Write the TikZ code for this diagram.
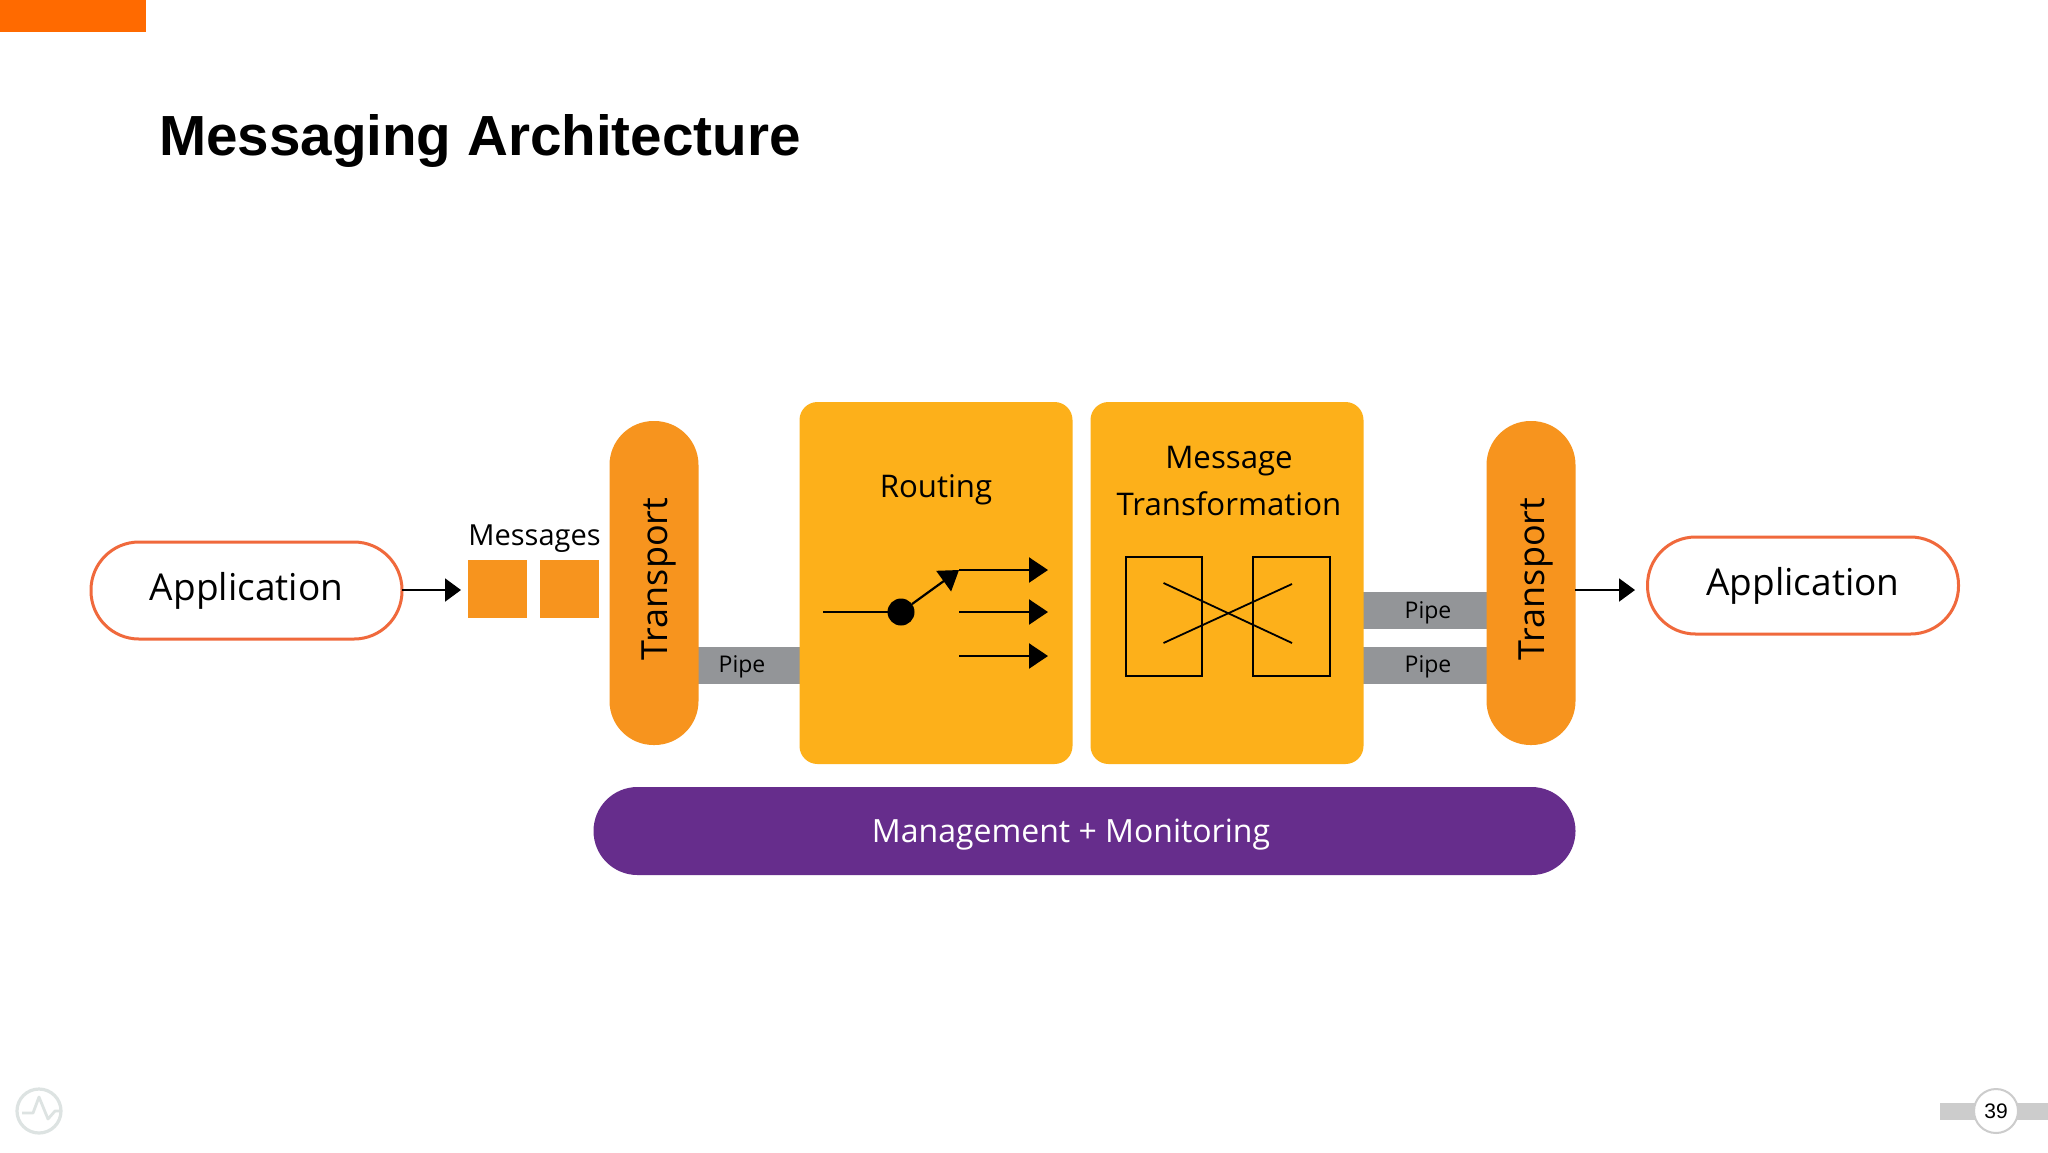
\documentclass[tikz,border=0pt]{standalone}
\usepackage{fontspec}
\setmainfont{Open Sans}
\newfontfamily\helv{Liberation Sans}
\usetikzlibrary{arrows.meta}
\definecolor{topbar}{HTML}{FF6A00}
\definecolor{tport}{HTML}{F7941E}
\definecolor{boxor}{HTML}{FDB01A}
\definecolor{pur}{HTML}{662D8C}
\definecolor{pipeg}{HTML}{939598}
\definecolor{pill}{HTML}{F0693C}
\definecolor{lightg}{HTML}{CCCCCC}
\definecolor{iconc}{HTML}{DDE3E2}
\newcommand{\fs}[1]{\fontsize{#1}{#1}\selectfont}
\tikzset{
  every node/.style={inner sep=0pt,outer sep=0pt},
  pillbox/.style={draw=pill,line width=1.5pt,fill=white,minimum width=155.5pt,minimum height=48.5pt,rounded corners=24pt,font=\fs{18.5}},
  tportbox/.style={fill=tport,minimum width=44.5pt,minimum height=162pt,rounded corners=22pt},
  tporttxt/.style={rotate=90,font=\fs{18}},
  mainbox/.style={fill=boxor,minimum width=136.5pt,minimum height=181pt,rounded corners=9pt},
  pipebox/.style={fill=pipeg},
  pipetxt/.style={font=\fs{11.5}},
  boxtxt/.style={font=\fs{15.6}},
  msg/.style={fill=tport,minimum width=29.5pt,minimum height=29pt},
  thinarr/.style={line width=1pt,-{Triangle[length=8pt,width=11.5pt]}},
  fatarr/.style={line width=1.1pt,-{Triangle[length=9.5pt,width=12.5pt]}},
  inner/.style={line width=0.9pt,draw=black},
}
\begin{document}
\begin{tikzpicture}[x=0.5pt,y=-0.5pt]
\useasboundingbox (0,0) rectangle (2048,1152);
\fill[white] (0,0) rectangle (2048,1152);
\fill[topbar] (0,0) rectangle (146,32);
\node[anchor=base west,font=\helv\bfseries\fs{28.3}] (title) at (159,155) {Messaging Architecture};

% pipes behind boxes
\node[pipebox,minimum width=51pt,minimum height=18.5pt] (pipeA) at (749,665.5) {};
\node[pipebox,minimum width=62pt,minimum height=18.5pt] (pipeB) at (1425,610.5) {};
\node[pipebox,minimum width=62pt,minimum height=18.5pt] (pipeC) at (1425,665.5) {};
\node[pipetxt] (pipeAt) at (742,667) {Pipe};
\node[pipetxt] (pipeBt) at (1428,613) {Pipe};
\node[pipetxt] (pipeCt) at (1428,667) {Pipe};

% applications
\node[pillbox] (appL) at (246.5,590.5) {Application};
\node[pillbox] (appR) at (1803,585.5) {Application};

% transports
\node[tportbox] (tpL) at (654,583) {};
\node[tportbox] (tpR) at (1531,583) {};
\node[tporttxt] (tpLt) at (659,579) {Transport};
\node[tporttxt] (tpRt) at (1536,579) {Transport};

% messages
\node[msg] (m1) at (497.5,589) {};
\node[msg] (m2) at (569.5,589) {};
\node[anchor=base,font=\fs{14.5}] (msgt) at (534.5,545) {Messages};
\coordinate (arrLend) at (461,590);
\coordinate (arrRstart) at (1575,590);
\coordinate (arrRend) at (1635,590);
\draw[thinarr] (appL.east |- arrLend) -- (arrLend);
\draw[thinarr] (arrRstart) -- (arrRend);

% main boxes
\node[mainbox] (route) at (936,583) {};
\node[mainbox] (trans) at (1227,583) {};
\node[boxtxt] (routet) at (936,490) {Routing};
\node[boxtxt] (transt1) at (1229,461) {Message};
\node[boxtxt] (transt2) at (1229,504) {Transformation};

% management
\node[fill=pur,minimum width=491pt,minimum height=44pt,rounded corners=22pt] (mgmt) at (1084.5,831) {};
\node[text=white,font=\fs{16}] (mgmtt) at (1071,835) {Management + Monitoring};

% switch
\coordinate (swin) at (823,612);
\node[circle,fill=black,minimum size=13.5pt] (dot) at (901,612) {};
\coordinate (swo) at (959,570);
\coordinate (o1) at (1048,570);
\coordinate (i2) at (959,612);
\coordinate (o2) at (1048,612);
\coordinate (i3) at (959,656);
\coordinate (o3) at (1048,656);
\draw[line width=1.1pt] (swin) -- (dot);
\draw[fatarr] (dot) -- (swo);
\draw[fatarr] (swo) -- (o1);
\draw[fatarr] (i2) -- (o2);
\draw[fatarr] (i3) -- (o3);

% transformation icon
\draw[inner] (1126,557) rectangle (1202,676);
\draw[inner] (1253,557) rectangle (1330,676);
\draw[inner] (1163.5,583) -- (1292,643);
\draw[inner] (1163.5,643) -- (1292,584);

% footer
\draw[iconc,line width=1.6pt] (39,1111) circle (11pt);
\draw[iconc,line width=1.4pt,line join=round] (22,1113) -- (33,1113) -- (39,1097) -- (48,1119) -- (55,1111) -- (60,1111);
\fill[lightg] (1940,1103) rectangle (2048,1120);
\node[circle,draw=lightg,line width=1pt,fill=white,minimum size=22pt,font=\helv\fs{10.5}] (page) at (1996,1111) {39};
\end{tikzpicture}
\end{document}
